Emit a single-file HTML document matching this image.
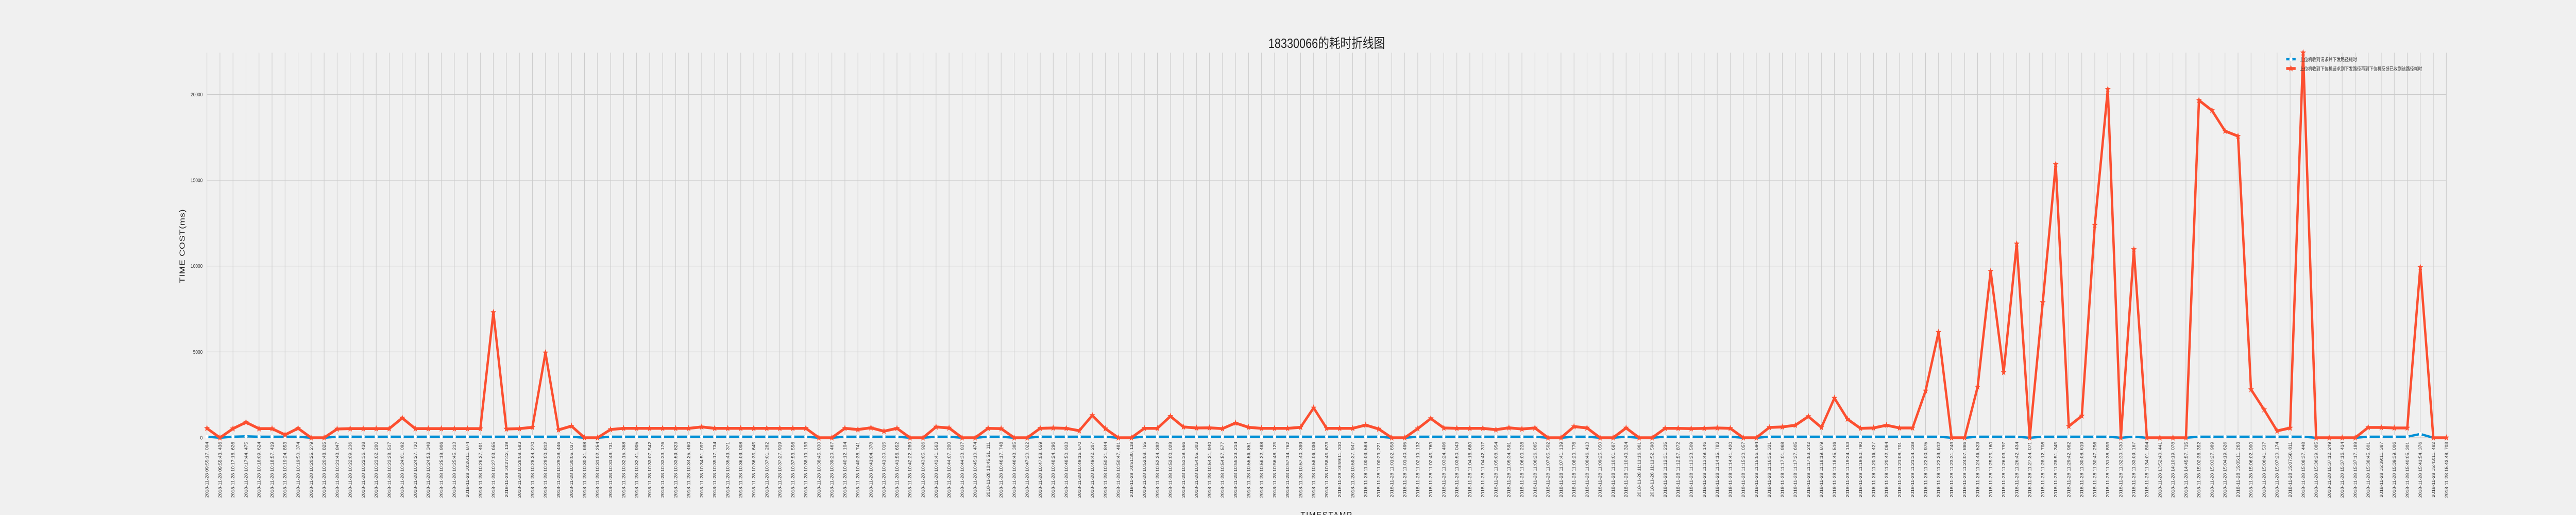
<!DOCTYPE html>
<html>
<head>
<meta charset="utf-8">
<style>
html,body{margin:0;padding:0;background:#f0f0f0;overflow:hidden;width:100vw;height:100vh;}
svg{display:block;width:100vw;height:100vh;}
text{font-family:"Liberation Sans","Noto Sans CJK SC",sans-serif;}
</style>
</head>
<body>
<svg id="chart" viewBox="0 0 6000 1000" preserveAspectRatio="none" xmlns="http://www.w3.org/2000/svg">
<rect x="0" y="0" width="6000" height="1000" fill="#f0f0f0"/>
<g id="grid"></g>
<g id="yticks"></g>
<g id="xticks"></g>
<g id="series"></g>
<text x="3090" y="93" font-size="26" fill="#222" text-anchor="middle">18330066的耗时折线图</text>
<text transform="translate(430,478) rotate(-90)" font-size="18" fill="#222" text-anchor="middle" textLength="143">TIME COST(ms)</text>
<text x="3090" y="1006" font-size="18" fill="#222" text-anchor="middle" letter-spacing="2">TIMESTAMP</text>
<g id="legend"></g>
</svg>
<script>
const yTicks = [0, 5000, 10000, 15000, 20000];
const timeLabels = [
"09:55:17, 004","09:55:43, 436","10:17:16, 626","10:17:44, 475","10:18:09, 624","10:18:57, 419","10:19:24, 853","10:19:50, 374","10:20:25, 279","10:20:48, 825",
"10:21:43, 847","10:22:09, 236","10:22:36, 438","10:23:02, 200","10:23:28, 517","10:24:01, 092","10:24:27, 730","10:24:53, 348","10:25:19, 906","10:25:45, 213",
"10:26:11, 874","10:26:37, 401","10:27:03, 655","10:27:42, 119","10:28:08, 583","10:28:34, 270","10:29:00, 812","10:29:39, 446","10:30:05, 037","10:30:31, 698",
"10:31:02, 254","10:31:49, 731","10:32:15, 368","10:32:41, 905","10:33:07, 542","10:33:33, 176","10:33:59, 823","10:34:25, 460","10:34:51, 097","10:35:17, 734",
"10:35:43, 371","10:36:09, 008","10:36:35, 645","10:37:01, 282","10:37:27, 919","10:37:53, 556","10:38:19, 193","10:38:45, 830","10:39:20, 467","10:40:12, 104",
"10:40:38, 741","10:41:04, 378","10:41:30, 015","10:41:56, 652","10:42:22, 289","10:43:05, 926","10:43:41, 563","10:44:07, 200","10:44:33, 837","10:45:10, 474",
"10:45:51, 111","10:46:17, 748","10:46:43, 385","10:47:20, 022","10:47:58, 659","10:48:24, 296","10:48:50, 933","10:49:16, 570","10:49:42, 207","10:50:21, 844",
"10:50:47, 481","10:51:30, 118","10:52:08, 755","10:52:34, 392","10:53:00, 029","10:53:39, 666","10:54:05, 303","10:54:31, 940","10:54:57, 577","10:55:23, 214",
"10:55:56, 851","10:56:22, 488","10:56:48, 125","10:57:14, 762","10:57:40, 399","10:58:06, 036","10:58:45, 673","10:59:11, 310","10:59:37, 947","11:00:03, 584",
"11:00:29, 221","11:01:02, 858","11:01:40, 495","11:02:19, 132","11:02:45, 769","11:03:24, 406","11:03:50, 043","11:04:16, 680","11:04:42, 317","11:05:08, 954",
"11:05:34, 591","11:06:00, 228","11:06:26, 865","11:07:05, 502","11:07:41, 139","11:08:20, 776","11:08:46, 413","11:09:25, 050","11:10:01, 687","11:10:40, 324",
"11:11:16, 961","11:11:52, 598","11:12:31, 235","11:12:57, 872","11:13:23, 509","11:13:49, 146","11:14:15, 783","11:14:41, 420","11:15:20, 057","11:15:56, 694",
"11:16:35, 331","11:17:01, 968","11:17:27, 605","11:17:53, 242","11:18:19, 879","11:18:45, 516","11:19:24, 153","11:19:50, 790","11:20:16, 427","11:20:42, 064",
"11:21:08, 701","11:21:34, 338","11:22:00, 975","11:22:39, 612","11:23:31, 249","11:24:07, 886","11:24:46, 523","11:25:25, 160","11:26:03, 797","11:26:42, 434",
"11:27:34, 071","11:28:12, 708","11:28:51, 345","11:29:42, 982","11:30:08, 619","11:30:47, 256","11:31:38, 893","11:32:30, 530","11:33:09, 167","11:34:01, 804",
"13:52:40, 441","14:10:19, 078","14:45:57, 715","15:02:36, 352","15:03:27, 989","15:04:19, 626","15:05:11, 263","15:06:02, 900","15:06:41, 537","15:07:20, 174",
"15:07:58, 811","15:08:37, 448","15:36:29, 085","15:37:12, 249","15:37:16, 414","15:37:17, 189","15:38:45, 601","15:39:11, 387","15:39:39, 006","15:40:05, 301",
"15:41:54, 376","15:43:11, 482","15:43:48, 703"
];
const roundTripCost = [
550,0,530,900,530,530,170,550,0,0,510,530,530,530,530,1150,530,530,530,530,530,530,7300,510,530,610,4950,460,680,
0,0,480,550,550,550,550,550,550,630,550,550,550,550,550,550,550,550,0,0,550,480,580,380,550,0,0,630,570,
0,0,550,530,0,0,550,570,550,410,1300,530,0,0,550,550,1250,630,570,580,530,860,610,550,550,550,610,1740,
550,550,550,740,510,0,0,530,1120,570,550,550,550,470,580,510,570,0,0,650,570,0,0,570,0,0,550,550,530,
550,570,550,0,0,600,630,730,1240,600,2310,1090,550,570,730,570,570,2730,6150,0,0,2960,9700,3810,11300,0,7880,15930,670,
1270,12390,20300,0,10970,0,0,0,0,19660,19070,17870,17570,2810,1640,400,570,22430,0,0,0,0,600,600,570,570,9930,0,0
];
const dispatchCost = [
60,0,60,80,60,60,60,60,0,0,60,60,60,60,60,60,60,60,60,60,60,60,60,60,60,60,60,60,60,
0,0,60,60,60,60,60,60,60,60,60,60,60,60,60,60,60,60,0,0,60,60,60,60,60,0,0,60,60,
0,0,60,60,0,0,60,60,60,60,60,60,0,0,60,60,60,60,60,60,60,60,60,60,60,60,60,60,
60,60,60,60,60,0,0,60,60,60,60,60,60,60,60,60,60,0,0,60,60,0,0,60,0,0,60,60,60,
60,60,60,0,0,60,60,60,60,60,60,60,60,60,60,60,60,60,60,0,0,60,60,60,60,0,60,60,60,
60,60,60,0,60,0,0,0,0,60,60,60,60,60,60,60,60,60,0,0,0,0,60,60,60,60,220,0,0
];
const legendLabels = ["上位机收到请求并下发路径耗时","上位机收到下位机请求到下发路径再到下位机反馈已收到该路径耗时"];

const NS = "http://www.w3.org/2000/svg";
const X0 = 482, X1 = 5698, Y0 = 850, YTOP = 102.4, YMAX = 22430;
const N = timeLabels.length;
function xs(i){ return X0 + i * (X1 - X0) / (N - 1); }
function ys(v){ return Y0 - v * (Y0 - YTOP) / YMAX; }
function mk(tag, attrs, parent){
  const e = document.createElementNS(NS, tag);
  for (const k in attrs) e.setAttribute(k, attrs[k]);
  parent.appendChild(e);
  return e;
}
function starPts(cx, cy, R){
  const r = R * 0.42; const p = [];
  for (let k = 0; k < 10; k++){
    const a = -Math.PI/2 + k * Math.PI / 5;
    const rr = k % 2 ? r : R;
    p.push((cx + rr*Math.cos(a)).toFixed(1) + "," + (cy + rr*Math.sin(a)).toFixed(1));
  }
  return p.join(" ");
}
const grid = document.getElementById("grid");
const yg = document.getElementById("yticks");
const xg = document.getElementById("xticks");
const sg = document.getElementById("series");
const lg = document.getElementById("legend");

for (let i = 0; i < N; i++){
  const gl = mk("line", {x1: xs(i), x2: xs(i), y1: YTOP, y2: Y0, stroke: "#cbcbcb", "stroke-width": 1.2}, grid);
  
  
  const t = mk("text", {transform: "translate(" + (xs(i) + 3.5) + ",858) rotate(-90)", "font-size": 9.5, fill: "#333", "text-anchor": "end"}, xg);
  t.textContent = "2018-11-28  " + timeLabels[i];
  
  
}
yTicks.forEach(v => {
  const gl = mk("line", {x1: 482, x2: X1, y1: ys(v), y2: ys(v), stroke: "#cbcbcb", "stroke-width": 1.2}, grid);
  
  
  const t = mk("text", {x: 472, y: ys(v) + 3.5, "font-size": 10, fill: "#333", "text-anchor": "end"}, yg);
  t.textContent = String(v);
  
  
});

const bp = dispatchCost.map((v, i) => xs(i).toFixed(1) + "," + ys(v).toFixed(1)).join(" ");
const bl = mk("polyline", {points: bp, fill: "none", stroke: "#008fd5", "stroke-width": 4.5, "stroke-linejoin": "round"}, sg);


dispatchCost.forEach((v, i) => {
  const c = mk("circle", {cx: xs(i), cy: ys(v), r: 3.6, fill: "#ffffff"}, sg);
  
  
});
const rp = roundTripCost.map((v, i) => xs(i).toFixed(1) + "," + ys(v).toFixed(1)).join(" ");
const rl = mk("polyline", {points: rp, fill: "none", stroke: "#fc4f30", "stroke-width": 5.5, "stroke-linejoin": "round"}, sg);


roundTripCost.forEach((v, i) => {
  const s = mk("polygon", {points: starPts(xs(i), ys(v), 7), fill: "#fc4f30"}, sg);
  
  
});

const l1 = mk("line", {x1: 5325, x2: 5347, y1: 115, y2: 115, stroke: "#008fd5", "stroke-width": 4.5}, lg);


const l1c = mk("circle", {cx: 5336, cy: 115, r: 3.6, fill: "#fff"}, lg);


const t1 = mk("text", {x: 5357, y: 119, "font-size": 9.5, fill: "#333"}, lg);
t1.textContent = legendLabels[0];


const l2 = mk("line", {x1: 5325, x2: 5347, y1: 133, y2: 133, stroke: "#fc4f30", "stroke-width": 5.5}, lg);


const l2s = mk("polygon", {points: starPts(5336, 133, 7), fill: "#fc4f30"}, lg);


const t2 = mk("text", {x: 5357, y: 137, "font-size": 9.5, fill: "#333"}, lg);
t2.textContent = legendLabels[1];


</script>
</body>
</html>
